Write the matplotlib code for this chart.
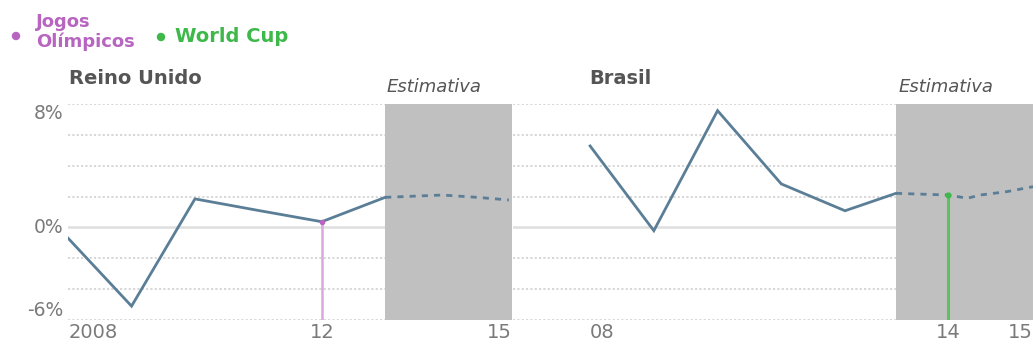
import matplotlib
matplotlib.use("Agg")
import matplotlib.pyplot as plt
from matplotlib.patches import Ellipse

# ---- data ----
uk_years = [2008, 2009, 2010, 2011, 2012, 2013]
uk_growth = [-0.7, -5.1, 1.85, 1.1, 0.37, 1.95]
uk_est_years = [2013, 2013.9, 2014.45, 2014.95]
uk_est = [1.95, 2.1, 1.95, 1.78]

br_years = [2008, 2009, 2010, 2011, 2012, 2012.8]
br_growth = [5.28, -0.21, 7.57, 2.82, 1.08, 2.21]
br_est_years = [2012.8, 2013.62, 2013.92, 2014.12, 2014.54, 2014.95]
br_est = [2.21, 2.1, 1.89, 2.1, 2.32, 2.64]

uk_event_year, uk_event_val = 2012, 0.37
br_event_year, br_event_val = 2013.62, 2.1

uk_xticks = [2008, 2012, 2015]
uk_xlabels = ["2008", "12", "15"]
br_xticks = [2008, 2013.62, 2014.95]
br_xlabels = ["08", "14", "15"]
yticks = [8, 0, -6]
ylabels = ["8%", "0%", "-6%"]
ygrid = [8, 6, 4, 2, -2, -4, -6]

LINE = "#5b7e97"
SHADE = "#c0c0c0"
GRID = "#d4d4d4"
TXT = "#7a7a7a"
PURPLE = "#b765c0"
GREEN = "#3fb84a"

W, H = 1033, 345
fig = plt.figure(figsize=(W / 100, H / 100), dpi=100)

def fx(px):
    return px / W

def fy(py):
    return 1 - py / H

def make_ax(left, right, xlim, shade_start, title, title_x):
    ax = fig.add_axes([fx(left), fy(320), fx(right - left), fy(104) - fy(320)])
    ax.set_xlim(*xlim)
    ax.set_ylim(-6, 8)
    for v in ygrid:
        ax.axhline(v, color=GRID, lw=1.3, ls=(0, (1.2, 1.2)), zorder=0)
    ax.axhline(0, color="#dedede", lw=1.8, zorder=0)
    ax.axvspan(shade_start, xlim[1] + 1, color=SHADE, lw=0, zorder=1)
    for s in ax.spines.values():
        s.set_visible(False)
    ax.tick_params(length=0)
    fig.text(fx(title_x), fy(78), title, fontsize=14, fontweight="bold",
             color="#555555", ha="left", va="center")
    return ax

# Left: Reino Unido
ax1 = make_ax(67.5, 512, (2007.99, 2015), 2013, "Reino Unido", 69)
ax1.plot(uk_years, uk_growth, color=LINE, lw=2, zorder=3, solid_joinstyle="miter")
ax1.plot(uk_est_years, uk_est, color=LINE, lw=2, ls=(0, (2.2, 2.2)), zorder=3)
ax1.plot([uk_event_year, uk_event_year], [-6, uk_event_val], color="#dca6df", lw=1.8, zorder=2)
ax1.plot([uk_event_year], [uk_event_val], "o", ms=3, color=PURPLE, zorder=4)
ax1.set_yticks(yticks)
ax1.set_yticklabels(ylabels, fontsize=13.5, color=TXT)
ax1.tick_params(axis="y", pad=3)
for lab, va in zip(ax1.get_yticklabels(), ["top", "center", "bottom"]):
    lab.set_va(va)
ax1.set_xticks(uk_xticks)
ax1.set_xticklabels(uk_xlabels, fontsize=14, color=TXT)
ax1.tick_params(axis="x", pad=2)
for lab, ha in zip(ax1.get_xticklabels(), ["left", "center", "right"]):
    lab.set_ha(ha)
ax1.text(2013.02, 8.5, "Estimativa", fontsize=13, style="italic", color="#555555",
         ha="left", va="bottom", clip_on=False)

# Right: Brasil
ax2 = make_ax(513, 1033, (2006.79, 2014.95), 2012.8, "Brasil", 589)
ax2.plot(br_years, br_growth, color=LINE, lw=2, zorder=3, solid_joinstyle="miter")
ax2.plot(br_est_years, br_est, color=LINE, lw=2, ls=(0, (2.2, 2.2)), zorder=3)
ax2.plot([br_event_year, br_event_year], [-6, br_event_val], color="#5cc35c", lw=2.2, zorder=2)
ax2.plot([br_event_year], [br_event_val], "o", ms=3.5, color=GREEN, zorder=4)
ax2.set_yticks([])
ax2.set_xticks(br_xticks)
ax2.set_xticklabels(br_xlabels, fontsize=14, color=TXT)
ax2.tick_params(axis="x", pad=2)
for lab, ha in zip(ax2.get_xticklabels(), ["left", "center", "right"]):
    lab.set_ha(ha)
ax2.text(2012.84, 8.5, "Estimativa", fontsize=13, style="italic", color="#555555",
         ha="left", va="bottom", clip_on=False)

# Legend
r = 0.0034
fig.patches.append(Ellipse((fx(16), fy(36)), 2 * r, 2 * r * W / H, transform=fig.transFigure,
                           color=PURPLE, figure=fig))
fig.text(fx(36), fy(32), "Jogos\nOlímpicos", fontsize=13, fontweight="bold", color=PURPLE,
         ha="left", va="center", linespacing=1.15)
fig.patches.append(Ellipse((fx(161), fy(37)), 2 * r, 2 * r * W / H,
                           transform=fig.transFigure, color=GREEN, figure=fig))
fig.text(fx(175), fy(36), "World Cup", fontsize=14, fontweight="bold", color=GREEN,
         ha="left", va="center")

fig.savefig("out.png", dpi=100)
